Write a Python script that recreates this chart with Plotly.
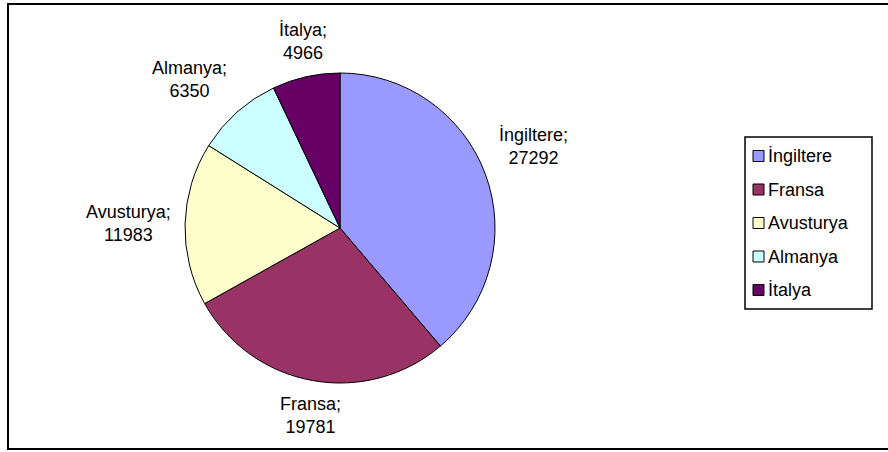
import math
import plotly.graph_objects as go

countries = ["İngiltere", "Fransa", "Avusturya", "Almanya", "İtalya"]
values = [27292, 19781, 11983, 6350, 4966]
colors = ["#9999FF", "#993366", "#FFFFCC", "#CCFFFF", "#660066"]

W, H = 888, 452
FONT = "Liberation Sans, Arial, sans-serif"

def px_x(x):
    return x / W

def px_y(y):
    return 1 - y / H

cx, cy, r = 340, 228, 155

fig = go.Figure(go.Pie(
    labels=countries,
    values=values,
    sort=False,
    direction="clockwise",
    rotation=0,
    marker=dict(colors=colors, line=dict(color="black", width=1)),
    textinfo="none",
    showlegend=False,
    domain=dict(x=[px_x(cx - r), px_x(cx + r)], y=[px_y(cy + r), px_y(cy - r)]),
    hoverinfo="label+value+percent",
))

shapes = [
    dict(type="rect", xref="paper", yref="paper",
         x0=px_x(8), x1=px_x(892), y0=px_y(449), y1=px_y(4),
         line=dict(color="black", width=2), fillcolor="rgba(0,0,0,0)"),
    dict(type="rect", xref="paper", yref="paper",
         x0=px_x(745), x1=px_x(872), y0=px_y(309), y1=px_y(137),
         line=dict(color="black", width=1.5), fillcolor="white"),
]
annotations = []

# data labels placed outside each slice at its mid-angle
total = sum(values)
cum = 0
gap = 12
for name, v in zip(countries, values):
    mid = (cum + v / 2) / total * 2 * math.pi
    cum += v
    s, c = math.sin(mid), math.cos(mid)
    ax = cx + (r + gap) * s
    ay = cy - (r + gap) * c
    xa = "left" if s > 0.3 else ("right" if s < -0.3 else "center")
    ya = "bottom" if c > 0.3 else ("top" if c < -0.3 else "middle")
    annotations.append(dict(xref="paper", yref="paper", x=px_x(ax), y=px_y(ay),
                            text=f"{name};<br>{v}", showarrow=False, align="center",
                            xanchor=xa, yanchor=ya,
                            font=dict(family=FONT, size=18, color="black")))

for i, (name, col) in enumerate(zip(countries, colors)):
    yc = 156 + i * 33.5
    shapes.append(dict(type="rect", xref="paper", yref="paper",
                       x0=px_x(753), x1=px_x(764), y0=px_y(yc + 5.5), y1=px_y(yc - 5.5),
                       line=dict(color="black", width=1), fillcolor=col))
    annotations.append(dict(xref="paper", yref="paper", x=px_x(766), y=px_y(yc),
                            text=name, showarrow=False, xanchor="left", yanchor="middle",
                            font=dict(family=FONT, size=18, color="black")))

fig.update_layout(
    width=W, height=H,
    margin=dict(l=0, r=0, t=0, b=0),
    paper_bgcolor="white",
    plot_bgcolor="white",
    shapes=shapes,
    annotations=annotations,
)

fig.write_html("out.html", config={"displayModeBar": False},
               post_script="document.body.style.margin='0';")
